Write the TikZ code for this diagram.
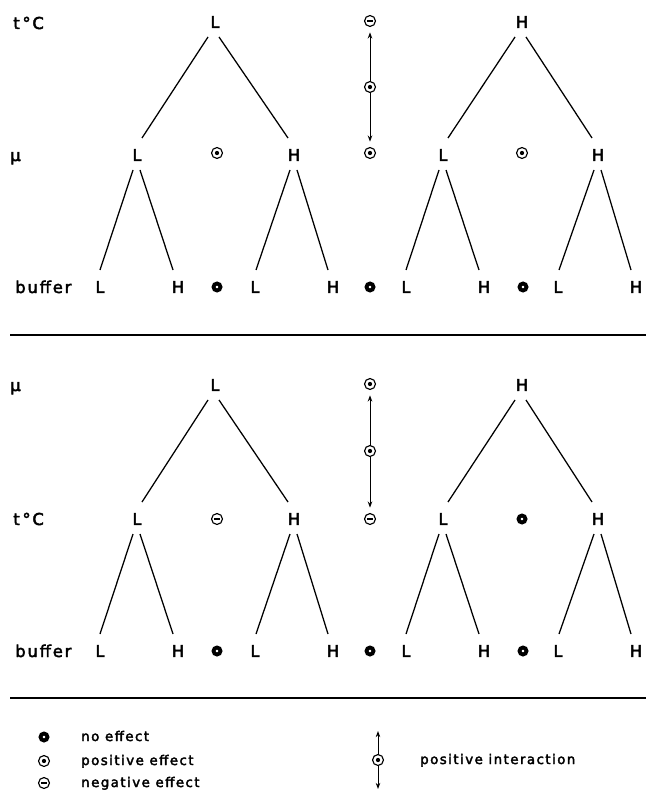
\documentclass[tikz,border=0pt]{standalone}
\usepackage{fontspec}
\setmainfont{DejaVu Sans}[LetterSpace=11, FakeBold=2.6]
\usetikzlibrary{arrows.meta,calc}
\tikzset{
  lab/.style={font=\fontsize{12.3}{14}\selectfont, inner sep=0pt},
  leg/.style={font=\fontsize{10}{12}\selectfont, inner sep=0pt, anchor=base west},
  edge/.style={line width=0.95pt},
  sepline/.style={line width=1pt},
  poseff/.style={circle, draw, line width=0.85pt, minimum size=8.2pt, inner sep=0pt,
    path picture={\fill (path picture bounding box.center) circle (1.6pt);}},
  negeff/.style={circle, draw, line width=0.85pt, minimum size=8.2pt, inner sep=0pt,
    path picture={\draw[line width=1.4pt] ([xshift=-2.4pt]path picture bounding box.center) -- ([xshift=2.4pt]path picture bounding box.center);}},
  noeff/.style={circle, draw, line width=2.9pt, minimum size=5.2pt, inner sep=0pt},
  intarr/.style={-{Stealth[length=4.6pt,width=3.4pt]}, line width=0.75pt, shorten >=4pt},
}
\newcommand\br[4]{\draw[edge] ($(#1)+(#3,15)$) -- ($(#2)+(#4,-17)$);}
\begin{document}
\begin{tikzpicture}[x=0.75pt,y=-0.75pt]
\useasboundingbox (0,0) rectangle (646,791);
% ---------------- top panel ----------------
\node[lab, anchor=base west] (lt1) at (13,29) {t\,°C};
\node[lab, anchor=base west] (lm1) at (10,161) {μ};
\node[lab, anchor=base west] (lb1) at (15,293) {buffer};
\node[lab] (ta0) at (215,22) {L};
\node[lab] (tb0) at (522,22) {H};
\node[lab] (ta1) at (137,155) {L};
\node[lab] (ta2) at (294,155) {H};
\node[lab] (tb1) at (443,155) {L};
\node[lab] (tb2) at (598,155) {H};
\node[lab] (tc1) at (100,287) {L};
\node[lab] (tc2) at (178,287) {H};
\node[lab] (tc3) at (255,287) {L};
\node[lab] (tc4) at (333,287) {H};
\node[lab] (tc5) at (406,287) {L};
\node[lab] (tc6) at (484,287) {H};
\node[lab] (tc7) at (558,287) {L};
\node[lab] (tc8) at (636,287) {H};
\br{ta0}{ta1}{-7}{5}
\br{ta0}{ta2}{4}{-6}
\br{tb0}{tb1}{-7}{5}
\br{tb0}{tb2}{4}{-6}
\br{ta1}{tc1}{-4}{0}
\br{ta1}{tc2}{3}{-5}
\br{ta2}{tc3}{-4}{1}
\br{ta2}{tc4}{3}{-5}
\br{tb1}{tc5}{-4}{0}
\br{tb1}{tc6}{3}{-5}
\br{tb2}{tc7}{-4}{1}
\br{tb2}{tc8}{3}{-5}
\node[negeff] (tn1) at (370,21) {};
\node[poseff] (tm1) at (370,87) {};
\node[poseff] (tp1) at (370,153) {};
\node[poseff] (tp0) at (217,153) {};
\node[poseff] (tp2) at (522,153) {};
\node[noeff] (tz1) at (217,287) {};
\node[noeff] (tz2) at (370,287) {};
\node[noeff] (tz3) at (523,287) {};
\draw[intarr] (tm1) -- (tn1);
\draw[intarr] (tm1) -- (tp1);
\draw[sepline] (10,335) -- (646,335);
% ---------------- bottom panel ----------------
\node[lab, anchor=base west] (lm2) at (10,391) {μ};
\node[lab, anchor=base west] (lt2) at (13,525) {t\,°C};
\node[lab, anchor=base west] (lb2) at (15,657) {buffer};
\node[lab] (ba0) at (215,385) {L};
\node[lab] (bb0) at (522,385) {H};
\node[lab] (ba1) at (137,519) {L};
\node[lab] (ba2) at (294,519) {H};
\node[lab] (bb1) at (443,519) {L};
\node[lab] (bb2) at (598,519) {H};
\node[lab] (bc1) at (100,651) {L};
\node[lab] (bc2) at (178,651) {H};
\node[lab] (bc3) at (255,651) {L};
\node[lab] (bc4) at (333,651) {H};
\node[lab] (bc5) at (406,651) {L};
\node[lab] (bc6) at (484,651) {H};
\node[lab] (bc7) at (558,651) {L};
\node[lab] (bc8) at (636,651) {H};
\br{ba0}{ba1}{-7}{5}
\br{ba0}{ba2}{4}{-6}
\br{bb0}{bb1}{-7}{5}
\br{bb0}{bb2}{4}{-6}
\br{ba1}{bc1}{-4}{0}
\br{ba1}{bc2}{3}{-5}
\br{ba2}{bc3}{-4}{1}
\br{ba2}{bc4}{3}{-5}
\br{bb1}{bc5}{-4}{0}
\br{bb1}{bc6}{3}{-5}
\br{bb2}{bc7}{-4}{1}
\br{bb2}{bc8}{3}{-5}
\node[poseff] (bp1) at (370,384) {};
\node[poseff] (bm1) at (370,451) {};
\node[negeff] (bn1) at (370,519) {};
\node[negeff] (bn0) at (217,519) {};
\node[noeff] (bz0) at (522,519) {};
\node[noeff] (bz1) at (217,651) {};
\node[noeff] (bz2) at (370,651) {};
\node[noeff] (bz3) at (523,651) {};
\draw[intarr] (bm1) -- (bp1);
\draw[intarr] (bm1) -- (bn1);
\draw[sepline] (10,698) -- (646,698);
% ---------------- legend ----------------
\node[noeff] (gz) at (44,737) {};
\node[poseff] (gp) at (44,761) {};
\node[negeff] (gn) at (44,783) {};
\node[leg] (gtz) at (81,741) {no effect};
\node[leg] (gtp) at (81,765) {positive effect};
\node[leg] (gtn) at (81,787) {negative effect};
\node[poseff] (gi) at (378,760) {};
\coordinate (giu) at (378,731);
\coordinate (gid) at (378,789);
\draw[intarr, shorten >=0pt] (gi) -- (giu);
\draw[intarr, shorten >=0pt] (gi) -- (gid);
\node[leg] (gti) at (420,764) {positive interaction};
\end{tikzpicture}
\end{document}
